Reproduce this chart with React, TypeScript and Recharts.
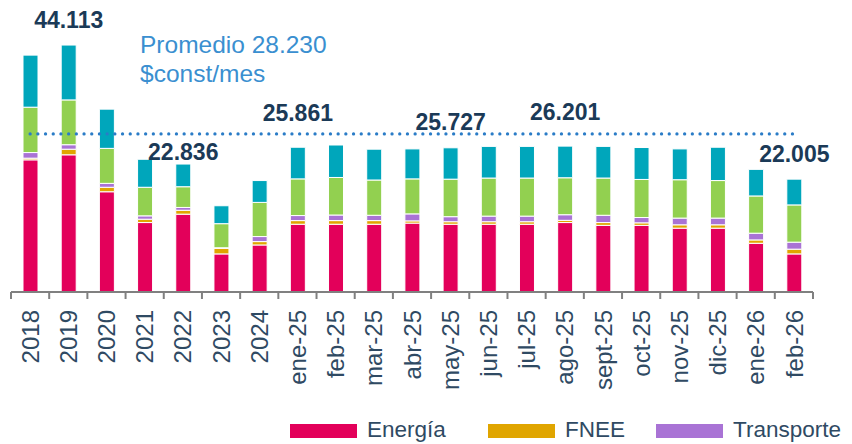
import { Bar, BarChart, LabelList, Legend, ReferenceLine, XAxis, YAxis } from "recharts";

const categories = [
  "2018", "2019", "2020", "2021", "2022", "2023", "2024",
  "ene-25", "feb-25", "mar-25", "abr-25", "may-25", "jun-25", "jul-25",
  "ago-25", "sept-25", "oct-25", "nov-25", "dic-25", "ene-26", "feb-26",
];

// miles de $ constantes / mes
const energia = [23.6, 24.5, 17.9, 12.4, 13.9, 6.8, 8.4, 12.1, 12.1, 12.1, 12.3, 12.1, 12.1, 12.1, 12.4, 11.9, 11.9, 11.4, 11.4, 8.7, 6.8];
const fnee = [0.3, 1.0, 0.8, 0.6, 0.7, 1.0, 0.6, 0.65, 0.65, 0.65, 0.4, 0.45, 0.45, 0.45, 0.4, 0.5, 0.45, 0.6, 0.6, 0.6, 0.85];
const transporte = [1.0, 0.8, 0.7, 0.6, 0.5, 0.1, 0.9, 0.9, 1.0, 0.95, 1.25, 0.9, 1.0, 1.0, 1.0, 1.3, 0.95, 1.2, 1.2, 1.2, 1.25];
const gas = [8.1, 8.0, 6.25, 5.1, 3.7, 4.3, 6.1, 6.55, 6.7, 6.3, 6.25, 6.7, 6.8, 6.8, 6.6, 6.65, 6.8, 6.85, 6.7, 6.65, 6.65];
const otros = [9.3, 9.8, 7.0, 5.0, 4.05, 3.2, 3.9, 5.65, 5.8, 5.5, 5.35, 5.6, 5.65, 5.65, 5.65, 5.65, 5.7, 5.5, 5.95, 4.75, 4.6];
const totalLabels = ["", "44.113", "", "", "22.836", "", "", "25.861", "", "", "", "25.727", "", "", "26.201", "", "", "", "", "", "22.005"];

const promedio = 28.23;
const promedioText = ["Promedio 28.230", "$const/mes"];

const legendItems = [
  { name: "Energía", color: "#E3005A" },
  { name: "FNEE", color: "#E0A500" },
  { name: "Transporte", color: "#A973D5" },
];

const data = categories.map((c, i) => ({
  cat: c,
  energia: energia[i],
  fnee: fnee[i],
  transporte: transporte[i],
  gas: gas[i],
  otros: otros[i],
  label: totalLabels[i],
}));

const W = 844;
const H = 436;
const MARGIN = { top: 4, right: 39, bottom: 12, left: 3 };
const BAND = (W - MARGIN.left - MARGIN.right) / categories.length;
const TEXT = "#2F4A63";
const NAVY = "#1B3A57";
const FONT = "'Liberation Sans', Arial, sans-serif";

// vertical offsets of the total labels above each bar top
const LABEL_DY: Record<string, number> = {
  "2019": -17,
  "2022": -4,
  "ene-25": -26,
  "may-25": -18,
  "ago-25": -26,
  "feb-26": -17,
};

function Tick(props: any) {
  const { x, y, payload, index } = props;
  return (
    <g>
      <line x1={x - BAND / 2} x2={x - BAND / 2} y1={y} y2={y + 7} stroke="#808080" strokeWidth={2} />
      {index === categories.length - 1 && (
        <line x1={x + BAND / 2} x2={x + BAND / 2} y1={y} y2={y + 7} stroke="#808080" strokeWidth={2} />
      )}
      <text
        x={x}
        y={y + 18}
        transform={`rotate(-90 ${x} ${y + 18})`}
        textAnchor="end"
        dy="0.36em"
        fill={TEXT}
        fontSize={24}
        fontFamily={FONT}
      >
        {payload.value}
      </text>
    </g>
  );
}

function TotalLabel(props: any) {
  const { x, y, width, value, index } = props;
  if (!value) return null;
  const dy = LABEL_DY[categories[index]] ?? -10;
  return (
    <text
      x={x + width / 2}
      y={y + dy}
      textAnchor="middle"
      fill={NAVY}
      fontSize={23}
      fontWeight="bold"
      fontFamily={FONT}
    >
      {value}
    </text>
  );
}

function PromedioLabel(props: any) {
  const vb = props.viewBox || {};
  const x = 132;
  const y = vb.y ?? 126;
  return (
    <g fontFamily={FONT} fontSize={24.5} fill="#3A8FD0">
      <text x={x} y={y - 81}>{promedioText[0]}</text>
      <text x={x} y={y - 52}>{promedioText[1]}</text>
    </g>
  );
}

function LegendContent() {
  const xs = [282, 480, 648];
  return (
    <svg width={W} height={H} style={{ display: "block" }}>
      {legendItems.map((it, i) => (
        <g key={it.name}>
          <rect x={xs[i]} y={416} width={67} height={14} fill={it.color} />
          <text x={xs[i] + 77} y={429} fill={TEXT} fontSize={22.5} fontFamily={FONT}>
            {it.name}
          </text>
        </g>
      ))}
    </svg>
  );
}

const seg = { stroke: "#ffffff", strokeWidth: 1, isAnimationActive: false, barSize: 15 };

export default function App() {
  return (
    <div style={{ width: W, height: H, fontFamily: FONT }}>
      <BarChart width={W} height={H} data={data} margin={MARGIN}>
        <XAxis
          dataKey="cat"
          interval={0}
          height={140}
          tickSize={0}
          tickMargin={0}
          tickLine={false}
          tick={<Tick />}
          axisLine={{ stroke: "#808080", strokeWidth: 2 }}
        />
        <YAxis hide domain={[0, 50]} />
        <Legend
          layout="horizontal"
          verticalAlign="middle"
          align="center"
          wrapperStyle={{ left: 0, top: 0, width: W, height: H, pointerEvents: "none" }}
          content={<LegendContent />}
        />
        <Bar dataKey="energia" name="Energía" stackId="a" fill="#E3005A" {...seg} />
        <Bar dataKey="fnee" name="FNEE" stackId="a" fill="#E0A500" {...seg} />
        <Bar dataKey="transporte" name="Transporte" stackId="a" fill="#A973D5" {...seg} />
        <Bar dataKey="gas" name="Gas" stackId="a" fill="#92D050" {...seg} />
        <Bar dataKey="otros" name="Otros" stackId="a" fill="#00A6BB" {...seg}>
          <LabelList dataKey="label" content={<TotalLabel />} />
        </Bar>
        <ReferenceLine
          segment={[
            { x: categories[0], y: promedio },
            { x: categories[categories.length - 1], y: promedio },
          ]}
          stroke="#2A7CC7"
          strokeWidth={3.2}
          strokeLinecap="round"
          strokeDasharray="0.1 7.6"
          label={<PromedioLabel />}
        />
      </BarChart>
    </div>
  );
}
